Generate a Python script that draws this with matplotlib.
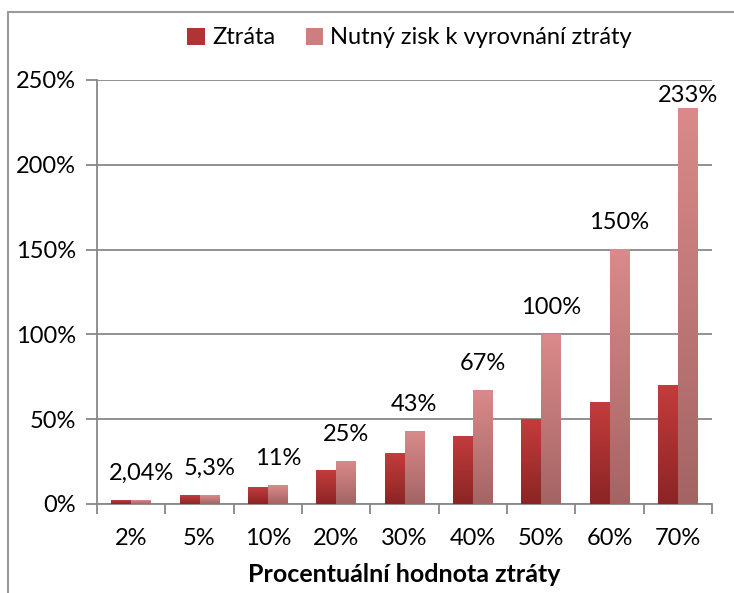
import numpy as np
import matplotlib.pyplot as plt
from matplotlib.colors import LinearSegmentedColormap
from matplotlib.patches import Rectangle, Patch

plt.rcParams['font.family'] = ['Lato', 'DejaVu Sans']

categories = ['2%', '5%', '10%', '20%', '30%', '40%', '50%', '60%', '70%']
ztrata = [2, 5, 10, 20, 30, 40, 50, 60, 70]
zisk = [2.04, 5.3, 11, 25, 43, 67, 100, 150, 233]
zisk_labels = ['2,04%', '5,3%', '11%', '25%', '43%', '67%', '100%', '150%', '233%']

red_cmap = LinearSegmentedColormap.from_list('r', ['#8a2525', '#c43c3c'])
pink_cmap = LinearSegmentedColormap.from_list('p', ['#a46464', '#da8a8a'])

fs = 17
fig = plt.figure(figsize=(7.34, 5.93), dpi=100)
fig.patches.append(Rectangle((8 / 734, -0.1), 1.2, 1 - 12.5 / 593 + 0.1, transform=fig.transFigure,
                             fill=False, edgecolor='#9a9a9a', lw=1.5, zorder=0))
ax = fig.add_axes([97 / 734, 1 - 504 / 593, 615 / 734, 424 / 593])

w = 0.29
grad = np.linspace(0, 1, 256).reshape(-1, 1)
x = np.arange(len(categories))
for i in range(len(categories)):
    for val, off, cmap in [(ztrata[i], -w, red_cmap), (zisk[i], 0, pink_cmap)]:
        ax.imshow(grad, cmap=cmap, origin='lower', aspect='auto',
                  extent=[x[i] + off, x[i] + off + w, 0, val], zorder=3)
    # label sits above the bar, pushed down to stay inside the plot area
    ax.text(x[i] + w / 2, min(zisk[i] + 12, 237), zisk_labels[i], ha='center', va='baseline',
            fontsize=fs, color='black')

ax.set_xlim(-0.5, len(categories) - 0.5)
ax.set_ylim(0, 250)
ax.set_yticks(np.arange(0, 251, 50))
ax.set_yticklabels([f'{v}%' for v in range(0, 251, 50)], fontsize=fs)
ax.set_xticks(x)
ax.set_xticklabels(categories, fontsize=fs)
ax.set_xticks(np.arange(-0.5, len(categories), 1), minor=True)
ax.tick_params(axis='x', which='major', length=0, pad=17)
ax.tick_params(axis='x', which='minor', length=7, color='#888888', width=1.3)
ax.tick_params(axis='y', length=8, color='#888888', width=1.3, pad=7)
ax.grid(axis='y', color='#888888', lw=1.3, zorder=0)
ax.set_axisbelow(True)
for s in ['top', 'right']:
    ax.spines[s].set_visible(False)
for s in ['left', 'bottom']:
    ax.spines[s].set_color('#888888')
    ax.spines[s].set_linewidth(1.3)
ax.set_xlabel('Procentuální hodnota ztráty', fontsize=18, fontweight='bold', labelpad=10)

handles = [Patch(facecolor='#b03434', label='Ztráta'),
           Patch(facecolor='#cd7e7e', label='Nutný zisk k vyrovnání ztráty')]
fig.legend(handles=handles, loc='center', bbox_to_anchor=(0.558, 1 - 38 / 593), ncol=2,
           frameon=False, fontsize=fs, handlelength=0.75, handleheight=0.75,
           handletextpad=0.3, columnspacing=1.3)

fig.savefig('out.png', dpi=100)
